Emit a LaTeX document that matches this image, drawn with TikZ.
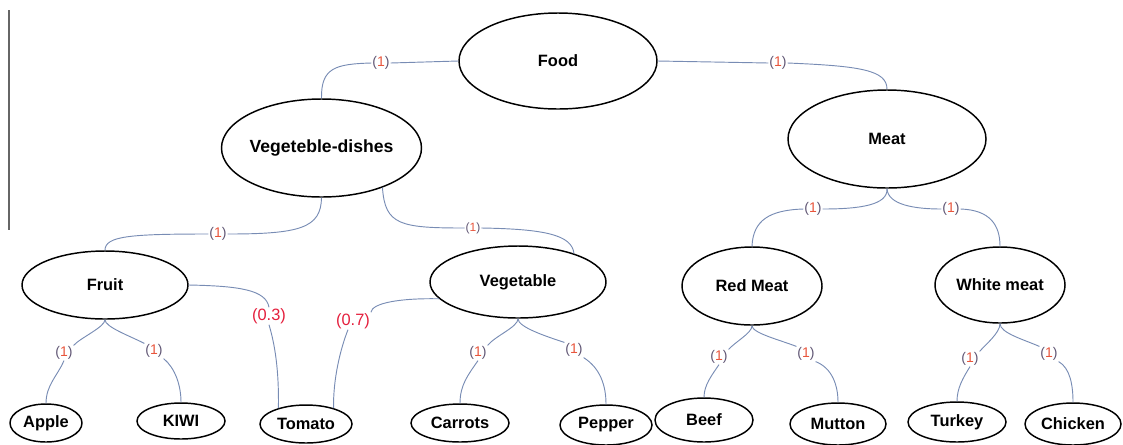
\documentclass[tikz,border=0pt]{standalone}
\usepackage{fontspec}
\setmainfont{Liberation Sans}
\usetikzlibrary{shapes.geometric}
\definecolor{connc}{RGB}{120,140,180}
\definecolor{parc}{RGB}{95,85,115}
\definecolor{digc}{RGB}{232,85,60}
\definecolor{redc}{RGB}{228,30,60}
\newcommand{\wone}{{\color{parc}(}{\color{digc}1}{\color{parc})}}
\tikzset{
  el/.style={ellipse, draw=black, line width=1.1pt, inner sep=0pt,
    font=\bfseries\fontsize{12.3}{14}\selectfont},
  conn/.style={draw=connc, line width=0.7pt},
  lab/.style={inner sep=0.6pt, font=\fontsize{10.5}{12}\selectfont},
  biglab/.style={inner sep=0.6pt, text=redc, font=\fontsize{12.3}{14}\selectfont}
}
\begin{document}
\begin{tikzpicture}[x=0.75pt,y=-0.75pt]
\useasboundingbox (0,0) rectangle (1123,444);
% left border line
\draw[gray!80!black, line width=1pt] (9,10) -- (9,230);
% nodes
\node[el, minimum width=148.5pt, minimum height=72pt] (food) at (558,61) {Food};
\node[el, minimum width=150pt, minimum height=73.5pt, inner xsep=-6pt, font=\bfseries\fontsize{13.2}{15}\selectfont] (vd) at (321.5,148) {Vegeteble-dishes};
\node[el, minimum width=148.5pt, minimum height=73.5pt] (meat) at (887,139) {Meat};
\node[el, minimum width=124.5pt, minimum height=51pt] (fruit) at (105,285) {Fruit};
\node[el, minimum width=132pt, minimum height=54pt] (veg) at (518,282) {Vegetable};
\node[el, minimum width=105pt, minimum height=58.5pt] (rm) at (752,286) {Red Meat};
\node[el, minimum width=97.5pt, minimum height=57pt] (wm) at (1000,285) {White meat};
\node[el, minimum width=54pt, minimum height=28.5pt] (apple) at (46,423) {Apple};
\node[el, minimum width=66pt, minimum height=27pt] (kiwi) at (181,421) {KIWI};
\node[el, minimum width=69pt, minimum height=28.5pt] (tomato) at (306,424) {Tomato};
\node[el, minimum width=73.5pt, minimum height=28.5pt] (carrots) at (460,423) {Carrots};
\node[el, minimum width=69pt, minimum height=30pt] (pepper) at (606,425) {Pepper};
\node[el, minimum width=73.5pt, minimum height=33pt] (beef) at (704,420) {Beef};
\node[el, minimum width=72pt, minimum height=31.5pt] (mutton) at (838,424) {Mutton};
\node[el, minimum width=73.5pt, minimum height=30pt] (turkey) at (957,422) {Turkey};
\node[el, minimum width=72pt, minimum height=31.5pt] (chicken) at (1073,424) {Chicken};
% labels
\node[lab] (l1) at (381,63) {\wone};
\node[lab] (l2) at (778,63) {\wone};
\node[lab] (l3) at (218,234) {\wone};
\node[lab, font=\fontsize{9}{10}\selectfont] (l4) at (473,228) {\wone};
\node[biglab] (l03) at (269,316) {(0.3)};
\node[biglab] (l07) at (353,321) {(0.7)};
\node[lab] (la) at (64,353) {\wone};
\node[lab] (lk) at (154,351) {\wone};
\node[lab] (lc) at (478,353) {\wone};
\node[lab] (lp) at (574,350) {\wone};
\node[lab] (lrm) at (813,209) {\wone};
\node[lab] (lwm) at (951,209) {\wone};
\node[lab] (lb) at (719,357) {\wone};
\node[lab] (lm) at (806,354) {\wone};
\node[lab] (lt) at (970,359) {\wone};
\node[lab] (lch) at (1049,354) {\wone};
% connectors: Food
\draw[conn] (food.west) -- (l1.east);
\draw[conn] (l1.west) .. controls (335,64) and (321,68) .. (vd.north);
\draw[conn] (food.east) -- (l2.west);
\draw[conn] (l2.east) .. controls (860,66) and (887,70) .. (meat.north);
% Vegeteble-dishes
\draw[conn] (vd.south) .. controls (321,228) and (300,234) .. (l3.east);
\draw[conn] (l3.west) .. controls (130,234) and (105,236) .. (fruit.north);
\draw[conn] (vd.-33) .. controls (385,225) and (400,228) .. (l4.west);
\draw[conn] (l4.east) .. controls (545,229) and (572,235) .. (veg.27);
% Tomato links
\draw[conn] (fruit.east) .. controls (240,286) and (266,290) .. (l03.north);
\draw[conn] (l03.south) .. controls (275,345) and (279,370) .. (tomato.150);
\draw[conn] (veg.192) .. controls (400,298) and (372,303) .. (l07.north east);
\draw[conn] (l07.240) .. controls (340,350) and (333,380) .. (tomato.30);
% Fruit children
\draw[conn] (fruit.south) .. controls (105,327) and (80,338) .. (la.north east);
\draw[conn] (la.south) .. controls (58,375) and (46,385) .. (apple.north);
\draw[conn] (fruit.south) .. controls (105,327) and (130,336) .. (lk.north west);
\draw[conn] (lk.south east) .. controls (175,368) and (181,385) .. (kiwi.north);
% Vegetable children
\draw[conn] (veg.south) .. controls (518,327) and (495,336) .. (lc.north east);
\draw[conn] (lc.south) .. controls (468,375) and (460,385) .. (carrots.north);
\draw[conn] (veg.south) .. controls (518,327) and (545,336) .. (lp.north west);
\draw[conn] (lp.south east) .. controls (600,368) and (606,385) .. (pepper.north);
% Meat
\draw[conn] (meat.south) .. controls (888,205) and (860,209) .. (lrm.east);
\draw[conn] (lrm.west) .. controls (770,210) and (753,220) .. (rm.north);
\draw[conn] (meat.south) .. controls (888,205) and (915,209) .. (lwm.west);
\draw[conn] (lwm.east) .. controls (990,210) and (1000,225) .. (wm.north);
% Red Meat children
\draw[conn] (rm.south) .. controls (752,333) and (735,342) .. (lb.north east);
\draw[conn] (lb.south) .. controls (712,375) and (704,385) .. (beef.north);
\draw[conn] (rm.south) .. controls (752,333) and (780,340) .. (lm.north west);
\draw[conn] (lm.south east) .. controls (832,368) and (838,385) .. (mutton.north);
% White meat children
\draw[conn] (wm.south) .. controls (1000,333) and (985,345) .. (lt.north east);
\draw[conn] (lt.south) .. controls (963,378) and (957,388) .. (turkey.north);
\draw[conn] (wm.south) .. controls (1000,333) and (1025,340) .. (lch.north west);
\draw[conn] (lch.south east) .. controls (1070,368) and (1073,385) .. (chicken.north);
\end{tikzpicture}
\end{document}
